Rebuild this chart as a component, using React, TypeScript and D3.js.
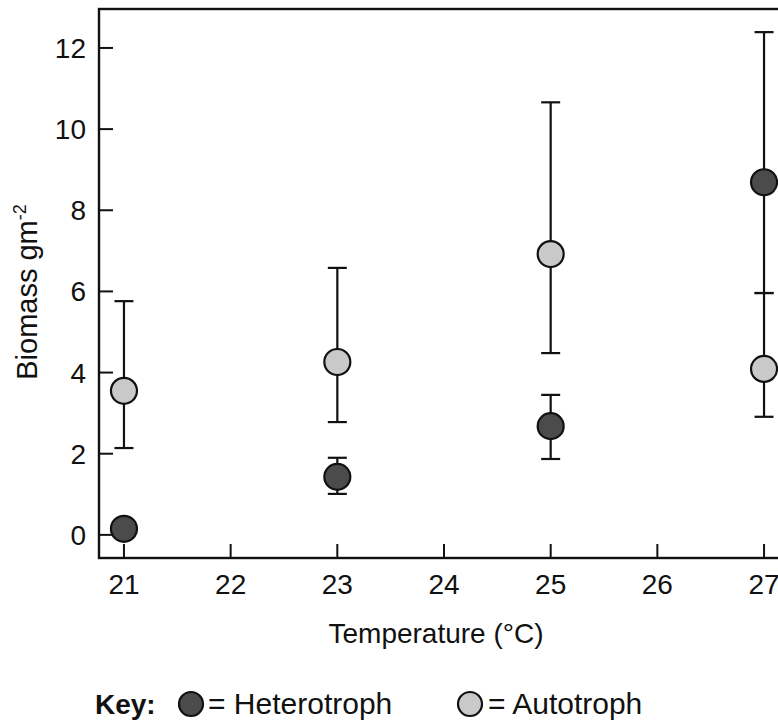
import React, { useEffect, useRef } from "react";
import * as d3 from "d3";

// Temperatures (°C) sampled
const temps = [21, 23, 25, 27];

// Heterotroph biomass (g m-2) with error bar limits
const heteroMean = [0.15, 1.43, 2.68, 8.69];
const heteroLow = [0.15, 1.01, 1.87, 5.96];
const heteroHigh = [0.15, 1.9, 3.45, 12.39];

// Autotroph biomass (g m-2) with error bar limits
const autoMean = [3.55, 4.26, 6.92, 4.09];
const autoLow = [2.14, 2.78, 4.48, 2.91];
const autoHigh = [5.76, 6.58, 10.66, 5.96];

const xTicks = [21, 22, 23, 24, 25, 26, 27];
const yTicks = [0, 2, 4, 6, 8, 10, 12];

const FONT = "'Liberation Sans', Arial, Helvetica, sans-serif";
const darkFill = "#4b4b4b";
const lightFill = "#c9c9c9";
const ink = "#111";

export default function App() {
  const ref = useRef<SVGSVGElement>(null);

  useEffect(() => {
    const svg = d3.select(ref.current);
    svg.selectAll("*").remove();

    const left = 99,
      right = 789,
      top = 9,
      bottom = 558,
      tickLen = 14,
      radius = 13,
      capHalf = 9.5;

    const x = d3.scaleLinear().domain([20.766, 27.234]).range([left, right]);
    const y = d3.scaleLinear().domain([-0.57, 12.96]).range([bottom, top]);

    // Frame (right side runs off the picture)
    svg
      .append("rect")
      .attr("x", left)
      .attr("y", top)
      .attr("width", right - left)
      .attr("height", bottom - top)
      .attr("fill", "none")
      .attr("stroke", ink)
      .attr("stroke-width", 2.4);

    // Inward ticks
    svg
      .selectAll(".xtick")
      .data(xTicks)
      .enter()
      .append("line")
      .attr("x1", (d) => x(d))
      .attr("x2", (d) => x(d))
      .attr("y1", bottom)
      .attr("y2", bottom - tickLen)
      .attr("stroke", ink)
      .attr("stroke-width", 2);

    svg
      .selectAll(".ytick")
      .data(yTicks)
      .enter()
      .append("line")
      .attr("x1", left)
      .attr("x2", left + tickLen)
      .attr("y1", (d) => y(d))
      .attr("y2", (d) => y(d))
      .attr("stroke", ink)
      .attr("stroke-width", 2);

    // Tick labels
    svg
      .selectAll(".xlabel")
      .data(xTicks)
      .enter()
      .append("text")
      .attr("x", (d) => x(d))
      .attr("y", 594)
      .attr("text-anchor", "middle")
      .attr("font-family", FONT)
      .attr("font-size", 28)
      .attr("fill", ink)
      .text((d) => d);

    svg
      .selectAll(".ylabel")
      .data(yTicks)
      .enter()
      .append("text")
      .attr("x", 86)
      .attr("y", (d) => y(d))
      .attr("dy", "0.36em")
      .attr("text-anchor", "end")
      .attr("font-family", FONT)
      .attr("font-size", 28)
      .attr("fill", ink)
      .text((d) => d);

    // Axis titles
    svg
      .append("text")
      .attr("x", 436)
      .attr("y", 643)
      .attr("text-anchor", "middle")
      .attr("font-family", FONT)
      .attr("font-size", 28)
      .attr("fill", ink)
      .text("Temperature (°C)");

    const yTitle = svg
      .append("text")
      .attr("transform", "translate(37,292) rotate(-90)")
      .attr("text-anchor", "middle")
      .attr("font-family", FONT)
      .attr("font-size", 29)
      .attr("fill", ink);
    yTitle.append("tspan").text("Biomass gm");
    yTitle
      .append("tspan")
      .attr("font-size", 18)
      .attr("dy", -11)
      .text("-2");

    // Build series rows
    const series = [
      { fill: darkFill, mean: heteroMean, low: heteroLow, high: heteroHigh },
      { fill: lightFill, mean: autoMean, low: autoLow, high: autoHigh },
    ];

    // Error bars first so the circles sit on top
    series.forEach((s) => {
      const rows = temps
        .map((t, i) => ({ t, lo: s.low[i], hi: s.high[i] }))
        .filter((r) => r.hi > r.lo);
      const g = svg.append("g").attr("stroke", ink).attr("stroke-width", 2.2);
      g.selectAll(".stem")
        .data(rows)
        .enter()
        .append("line")
        .attr("x1", (d) => x(d.t))
        .attr("x2", (d) => x(d.t))
        .attr("y1", (d) => y(d.lo))
        .attr("y2", (d) => y(d.hi));
      g.selectAll(".capHi")
        .data(rows)
        .enter()
        .append("line")
        .attr("x1", (d) => x(d.t) - capHalf)
        .attr("x2", (d) => x(d.t) + capHalf)
        .attr("y1", (d) => y(d.hi))
        .attr("y2", (d) => y(d.hi));
      g.selectAll(".capLo")
        .data(rows)
        .enter()
        .append("line")
        .attr("x1", (d) => x(d.t) - capHalf)
        .attr("x2", (d) => x(d.t) + capHalf)
        .attr("y1", (d) => y(d.lo))
        .attr("y2", (d) => y(d.lo));
    });

    series.forEach((s) => {
      svg
        .append("g")
        .selectAll("circle")
        .data(temps.map((t, i) => ({ t, v: s.mean[i] })))
        .enter()
        .append("circle")
        .attr("cx", (d) => x(d.t))
        .attr("cy", (d) => y(d.v))
        .attr("r", radius)
        .attr("fill", s.fill)
        .attr("stroke", ink)
        .attr("stroke-width", 2.2);
    });

    // Key
    const legendY = 714;
    svg
      .append("text")
      .attr("x", 95)
      .attr("y", legendY)
      .attr("font-family", FONT)
      .attr("font-size", 28)
      .attr("font-weight", "bold")
      .attr("fill", ink)
      .text("Key:");

    const keyItems = [
      { fill: darkFill, label: "= Heterotroph", cx: 191, tx: 208 },
      { fill: lightFill, label: "= Autotroph", cx: 470, tx: 488 },
    ];
    keyItems.forEach((k) => {
      svg
        .append("circle")
        .attr("cx", k.cx)
        .attr("cy", legendY - 10)
        .attr("r", 12)
        .attr("fill", k.fill)
        .attr("stroke", ink)
        .attr("stroke-width", 2.2);
      svg
        .append("text")
        .attr("x", k.tx)
        .attr("y", legendY)
        .attr("font-family", FONT)
        .attr("font-size", 30)
        .attr("fill", ink)
        .text(k.label);
    });
  }, []);

  return (
    <svg
      ref={ref}
      width={778}
      height={722}
      style={{ position: "absolute", left: 0, top: 0, background: "#fff" }}
    ></svg>
  );
}
